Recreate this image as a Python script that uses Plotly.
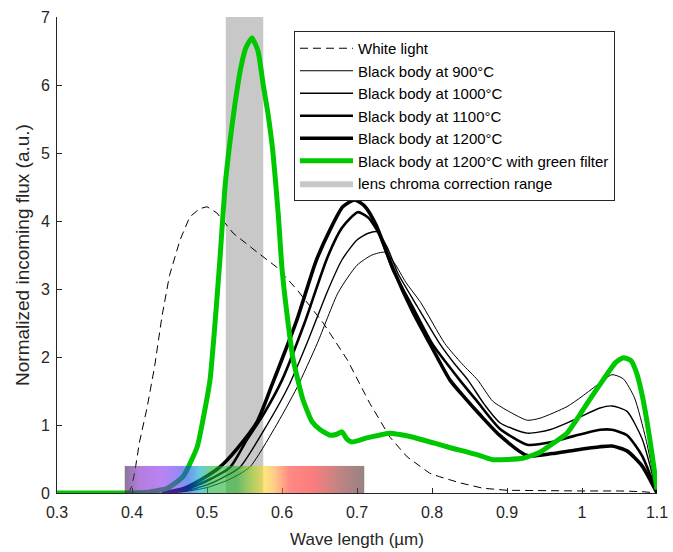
import base64
import plotly.graph_objects as go

# ---------------- data ----------------
white_wl = [0.395, 0.40, 0.405, 0.41, 0.42, 0.43, 0.44, 0.45, 0.464, 0.477, 0.49, 0.50, 0.513,
            0.535, 0.567, 0.593, 0.62, 0.655, 0.687, 0.717, 0.744, 0.767, 0.797, 0.81, 0.837,
            0.868, 0.90, 0.95, 1.00, 1.05, 1.08, 1.10]
white_val = [0.0, 0.1, 0.4, 0.75, 1.25, 1.85, 2.6, 3.2, 3.72, 4.06, 4.18, 4.21, 4.12,
             3.82, 3.54, 3.32, 2.99, 2.5, 1.96, 1.32, 0.82, 0.53, 0.29, 0.24, 0.15,
             0.07, 0.04, 0.03, 0.03, 0.03, 0.02, 0.0]

bb900_wl = [0.44, 0.47, 0.50, 0.53, 0.557, 0.59, 0.62, 0.647, 0.675, 0.70, 0.72, 0.737, 0.75,
            0.765, 0.785, 0.817, 0.84, 0.861, 0.881, 0.904, 0.927, 0.944, 0.98, 1.00, 1.024,
            1.04, 1.055, 1.07, 1.085, 1.10]
bb900_val = [0.0, 0.02, 0.08, 0.2, 0.38, 0.95, 1.55, 2.2, 2.95, 3.35, 3.5, 3.54, 3.38,
             3.1, 2.8, 2.2, 1.9, 1.66, 1.35, 1.19, 1.07, 1.1, 1.27, 1.42, 1.62,
             1.74, 1.68, 1.4, 0.8, 0.0]

bb1000_wl = [0.44, 0.47, 0.50, 0.52, 0.544, 0.58, 0.61, 0.635, 0.66, 0.68, 0.70, 0.715, 0.727,
             0.74, 0.755, 0.78, 0.81, 0.83, 0.848, 0.87, 0.891, 0.927, 0.957, 0.988, 1.024,
             1.04, 1.06, 1.08, 1.10]
bb1000_val = [0.0, 0.03, 0.12, 0.22, 0.38, 1.0, 1.6, 2.25, 2.95, 3.43, 3.72, 3.82, 3.84,
              3.62, 3.22, 2.75, 2.2, 1.9, 1.66, 1.3, 1.03, 0.88, 0.93, 1.07, 1.25,
              1.28, 1.2, 0.8, 0.0]

bb1100_wl = [0.44, 0.47, 0.50, 0.531, 0.553, 0.575, 0.60, 0.63, 0.66, 0.68, 0.701, 0.715, 0.73,
             0.748, 0.775, 0.80, 0.837, 0.86, 0.89, 0.927, 0.96, 0.99, 1.024, 1.04, 1.06,
             1.08, 1.10]
bb1100_val = [0.0, 0.05, 0.18, 0.38, 0.78, 1.15, 1.66, 2.5, 3.45, 3.9, 4.13, 4.05, 3.8,
              3.28, 2.72, 2.2, 1.66, 1.35, 0.95, 0.71, 0.75, 0.84, 0.93, 0.93, 0.85,
              0.55, 0.0]

bb1200_wl = [0.44, 0.47, 0.50, 0.517, 0.54, 0.567, 0.587, 0.62, 0.645, 0.664, 0.681, 0.697,
             0.71, 0.725, 0.748, 0.775, 0.797, 0.824, 0.843, 0.864, 0.89, 0.927, 0.96, 0.99,
             1.024, 1.04, 1.06, 1.08, 1.10]
bb1200_val = [0.0, 0.07, 0.25, 0.38, 0.65, 1.05, 1.6, 2.55, 3.4, 3.87, 4.21, 4.31,
              4.22, 3.95, 3.3, 2.65, 2.2, 1.66, 1.41, 1.15, 0.85, 0.55, 0.58, 0.63,
              0.68, 0.69, 0.62, 0.4, 0.0]

green_wl = [0.30, 0.40, 0.42, 0.447, 0.468, 0.487, 0.495, 0.504, 0.51, 0.517, 0.524, 0.531, 0.537,
            0.545, 0.552, 0.56, 0.568, 0.575, 0.581, 0.588, 0.595, 0.60, 0.607, 0.615, 0.628,
            0.64, 0.651, 0.664, 0.672, 0.68, 0.686, 0.693, 0.713, 0.744, 0.757, 0.775, 0.82,
            0.864, 0.881, 0.921, 0.944, 0.96, 0.98, 1.00, 1.01, 1.028, 1.045, 1.055, 1.065,
            1.073, 1.08, 1.087, 1.093, 1.10]
green_val = [0.0, 0.0, 0.01, 0.07, 0.24, 0.68, 1.1, 1.66, 2.4, 3.4, 4.5, 5.2, 5.7,
             6.25, 6.55, 6.69, 6.5, 6.0, 5.6, 5.0, 4.1, 3.3, 2.6, 1.96, 1.37,
             1.05, 0.93, 0.85, 0.86, 0.9, 0.8, 0.75, 0.81, 0.88, 0.86, 0.82, 0.68,
             0.55, 0.49, 0.51, 0.6, 0.72, 0.88, 1.2, 1.37, 1.66, 1.92, 1.99, 1.95,
             1.76, 1.45, 1.03, 0.6, 0.05]

lens_range = [0.525, 0.575]
spectrum_range = [0.39, 0.71]
spectrum_height = 0.4
spectrum_stops = [0.39, 0.41, 0.44, 0.46, 0.475, 0.49, 0.505, 0.54, 0.56, 0.575, 0.59, 0.61,
                  0.64, 0.67, 0.71]
spectrum_colors = ["#3c1e50", "#8228c8", "#8c32f0", "#5a3cf0", "#1450e6", "#00aac8", "#1eb43c",
                   "#28b428", "#a0d21e", "#fadc28", "#ffaa3c", "#ff3c32", "#fa2828", "#aa3232",
                   "#503232"]

x_ticks = [0.3, 0.4, 0.5, 0.6, 0.7, 0.8, 0.9, 1.0, 1.1]
x_ticklabels = ["0.3", "0.4", "0.5", "0.6", "0.7", "0.8", "0.9", "1", "1.1"]
y_ticks = [0, 1, 2, 3, 4, 5, 6, 7]

# ---------------- figure ----------------
fig = go.Figure()

fig.add_trace(go.Scatter(
    x=[lens_range[0], lens_range[1], lens_range[1], lens_range[0], lens_range[0]],
    y=[0, 0, 7, 7, 0], fill="toself", fillcolor="#c8c8c8", mode="lines",
    line=dict(width=0, color="#c8c8c8"), name="lens chroma correction range",
    legendrank=1007, hoverinfo="skip"))

fig.add_trace(go.Scatter(x=white_wl, y=white_val, mode="lines", name="White light",
                         line=dict(color="black", width=1, dash="8px,5px"), legendrank=1000))
fig.add_trace(go.Scatter(x=bb900_wl, y=bb900_val, mode="lines", name="Black body at 900°C",
                         line=dict(color="black", width=1, shape="spline", smoothing=0.6),
                         legendrank=1001))
fig.add_trace(go.Scatter(x=bb1000_wl, y=bb1000_val, mode="lines", name="Black body at 1000°C",
                         line=dict(color="black", width=1.4, shape="spline", smoothing=0.6),
                         legendrank=1002))
fig.add_trace(go.Scatter(x=bb1100_wl, y=bb1100_val, mode="lines", name="Black body at 1100°C",
                         line=dict(color="black", width=2.6, shape="spline", smoothing=0.6),
                         legendrank=1003))
fig.add_trace(go.Scatter(x=bb1200_wl, y=bb1200_val, mode="lines", name="Black body at 1200°C",
                         line=dict(color="black", width=3.6, shape="spline", smoothing=0.6),
                         legendrank=1004))
fig.add_trace(go.Scatter(x=green_wl, y=green_val, mode="lines",
                         name="Black body at 1200°C with green filter",
                         line=dict(color="#00c800", width=5, shape="spline", smoothing=0.5),
                         legendrank=1005))

# spectrum gradient as an SVG image
span = spectrum_range[1] - spectrum_range[0]
stops_svg = "".join(
    f'<stop offset="{(w - spectrum_range[0]) / span:.4f}" stop-color="{c}"/>'
    for w, c in zip(spectrum_stops, spectrum_colors))
svg = ('<svg xmlns="http://www.w3.org/2000/svg" width="320" height="40" viewBox="0 0 320 40" '
       'preserveAspectRatio="none"><defs><linearGradient id="g" x1="0" y1="0" x2="1" y2="0">'
       + stops_svg + '</linearGradient></defs><rect x="0" y="0" width="320" height="40" '
       'fill="url(#g)"/></svg>')
src = "data:image/svg+xml;base64," + base64.b64encode(svg.encode()).decode()
fig.add_layout_image(dict(source=src, xref="x", yref="y", x=spectrum_range[0], y=spectrum_height,
                          sizex=span, sizey=spectrum_height, sizing="stretch", opacity=0.6,
                          layer="above", xanchor="left", yanchor="top"))

axis_color = "#262626"
fig.update_layout(
    width=673, height=552,
    margin=dict(l=57, r=16, t=17, b=59, autoexpand=False),
    paper_bgcolor="white", plot_bgcolor="white",
    font=dict(family="Liberation Sans, Arial, sans-serif", color=axis_color, size=16),
    showlegend=True,
    legend=dict(x=0.395, y=0.9706, xanchor="left", yanchor="top",
                bgcolor="white", bordercolor="#262626", borderwidth=1,
                font=dict(size=15, color="black"), tracegroupgap=0,
                itemwidth=53),
    xaxis=dict(range=[0.3, 1.1], tickvals=x_ticks, ticktext=x_ticklabels,
               ticks="inside", ticklen=5, tickcolor=axis_color, showline=True,
               linecolor=axis_color, linewidth=1, showgrid=False, zeroline=False,
               automargin=False, ticklabelstandoff=5,
               title=dict(text="Wave length (µm)", font=dict(size=17), standoff=12),
               tickfont=dict(size=16)),
    yaxis=dict(range=[0, 7], tickvals=y_ticks, ticks="inside", ticklen=5,
               tickcolor=axis_color, showline=True, linecolor=axis_color, linewidth=1,
               showgrid=False, zeroline=False, automargin=False, ticklabelstandoff=3,
               title=dict(text="Normalized incoming flux (a.u.)", font=dict(size=19), standoff=6),
               tickfont=dict(size=16)),
)

fig.write_html("out.html")
